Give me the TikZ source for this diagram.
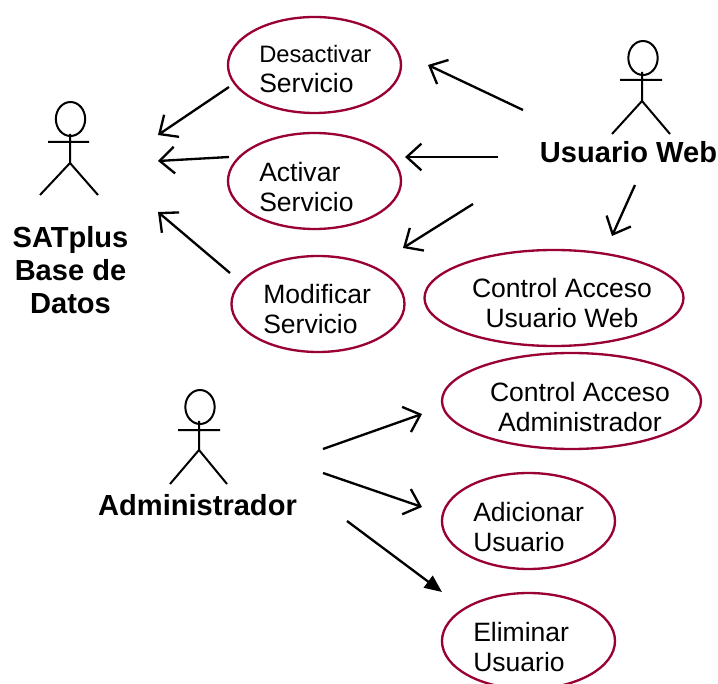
\documentclass[tikz,border=0pt]{standalone}
\usepackage{fontspec}
\setmainfont{Liberation Sans}
\usetikzlibrary{shapes.geometric,arrows.meta}
\definecolor{usecase}{HTML}{990033}
\tikzset{
  x=0.75pt,y=-0.75pt,
  case/.style={draw=usecase,line width=1.75pt,ellipse,inner sep=0pt,minimum width=#1*0.75pt,minimum height=72pt},
  casetext/.style={font=\fontsize{19.9}{22.5}\selectfont,inner sep=0pt,align=left,anchor=west},
  casemid/.style={font=\fontsize{19.9}{22.5}\selectfont,inner sep=0pt,align=center},
  actortext/.style={font=\fontsize{21.8}{25}\selectfont\bfseries,inner sep=0pt,align=center},
  head/.style={draw=black,line width=1.5pt,ellipse,inner sep=0pt,minimum width=22pt,minimum height=25.5pt},
  limb/.style={draw=black,line width=1.5pt},
  open/.style={draw=black,line width=1.75pt,-{Straight Barb[length=11pt,width=20pt,line width=1.75pt]}},
  solid tip/.style={draw=black,line width=1.75pt,-{Triangle[length=13pt,width=11pt]}}
}
\begin{document}
\begin{tikzpicture}
\useasboundingbox (0,0) rectangle (718,684);
% use cases
\node[case=173] (des) at (314.5,65) {};
\node[case=173] (act) at (314.5,181) {};
\node[case=173] (mod) at (318,304) {};
\node[case=259] (cweb) at (554,298) {};
\node[case=259] (cadm) at (571.5,401) {};
\node[case=173] (adi) at (528.5,521) {};
\node[case=173] (eli) at (528.5,641) {};
% use case texts
\node[casetext] (tdes) at (259,69) {{\fontsize{17.8}{22.5}\selectfont Desactivar}\\Servicio};
\node[casetext] (tact) at (259,187) {Activar\\Servicio};
\node[casetext] (tmod) at (263,309) {Modificar\\Servicio};
\node[casemid] (tcweb) at (562,303) {Control Acceso\\Usuario Web};
\node[casemid] (tcadm) at (580,407) {Control Acceso\\Administrador};
\node[casetext] (tadi) at (473,527) {Adicionar\\Usuario};
\node[casetext] (teli) at (473,647) {Eliminar\\Usuario};
% actor SATplus
\node[head] (h1) at (70.5,119) {};
\coordinate (n1) at (70,134);
\coordinate (w1) at (70,163);
\coordinate (al1) at (48,142);
\coordinate (ar1) at (89,142);
\coordinate (ll1) at (40,195);
\coordinate (lr1) at (98,195);
\draw[limb] (n1) -- (w1) (al1) -- (ar1) (ll1) -- (w1) -- (lr1);
\node[actortext] (sat) at (70.5,270) {SATplus\\Base de\\Datos};
% actor Usuario Web
\node[head] (h2) at (643,58) {};
\coordinate (n2) at (642,72);
\coordinate (w2) at (642,101);
\coordinate (al2) at (620,80);
\coordinate (ar2) at (662,80);
\coordinate (ll2) at (612,134);
\coordinate (lr2) at (670,134);
\draw[limb] (n2) -- (w2) (al2) -- (ar2) (ll2) -- (w2) -- (lr2);
\node[actortext] (uw) at (628.5,152) {Usuario Web};
% actor Administrador
\node[head] (h3) at (200,407) {};
\coordinate (n3) at (199,421);
\coordinate (w3) at (199,450);
\coordinate (al3) at (178,430);
\coordinate (ar3) at (220,430);
\coordinate (ll3) at (170,484);
\coordinate (lr3) at (227,484);
\draw[limb] (n3) -- (w3) (al3) -- (ar3) (ll3) -- (w3) -- (lr3);
\node[actortext] (adm) at (197.5,505) {Administrador};
% connector ends
\coordinate (a1s) at (229,87);   \coordinate (a1e) at (158,135);
\coordinate (a2s) at (229,157);  \coordinate (a2e) at (158,161);
\coordinate (a3s) at (230,273);  \coordinate (a3e) at (158,212);
\coordinate (b1s) at (523,110);  \coordinate (b1e) at (428,65);
\coordinate (b2s) at (498,157);  \coordinate (b2e) at (405,157);
\coordinate (b3s) at (473,204);  \coordinate (b3e) at (403,248);
\coordinate (b4s) at (635,185);  \coordinate (b4e) at (612,236);
\coordinate (c1s) at (323,449);  \coordinate (c1e) at (422,414);
\coordinate (c2s) at (323,473);  \coordinate (c2e) at (422,507);
\coordinate (c3s) at (347,521);  \coordinate (c3e) at (442,592);
% connectors
\draw[open] (a1s) -- (a1e);
\draw[open] (a2s) -- (a2e);
\draw[open] (a3s) -- (a3e);
\draw[open] (b1s) -- (b1e);
\draw[open] (b2s) -- (b2e);
\draw[open] (b3s) -- (b3e);
\draw[open] (b4s) -- (b4e);
\draw[open] (c1s) -- (c1e);
\draw[open] (c2s) -- (c2e);
\draw[solid tip] (c3s) -- (c3e);
\end{tikzpicture}
\end{document}
